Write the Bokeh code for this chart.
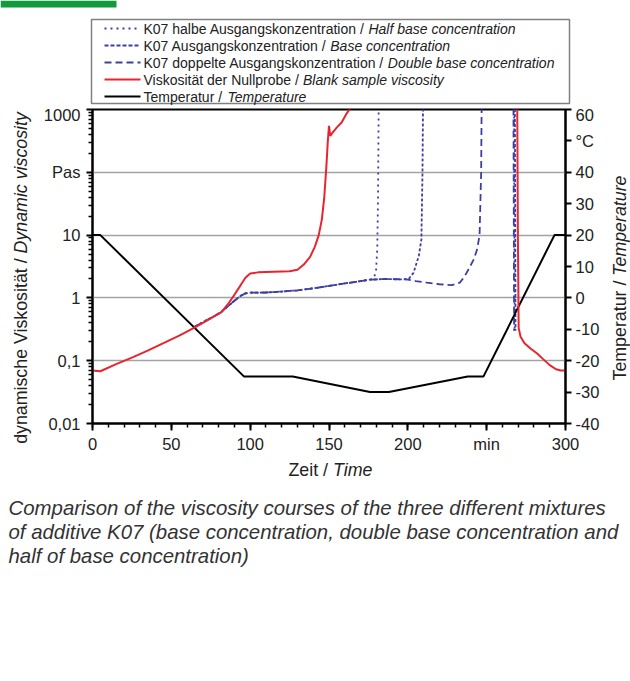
import math
from bokeh.plotting import figure
from bokeh.layouts import column, row
from bokeh.models import Range1d, LinearScale, LinearAxis, FixedTicker, Div
from bokeh.core.properties import value
from bokeh.embed import file_html
from bokeh.resources import INLINE

# ---------------- data ----------------
temp_time = [0, 5, 96, 127, 176, 188, 238, 248, 293, 300]
temp_c = [20, 20, -25, -25, -30, -30, -25, -25, 20, 20]

blank_time = [0, 5, 15, 25, 35, 45, 55, 65, 75, 82, 86, 90, 94, 97, 100, 105, 115, 125,
              130, 134, 138, 141, 143.5, 145.5, 147, 148.3, 149.2, 150, 150.8, 152, 155,
              158, 161, 163, 164, 269, 269.4, 269.8, 270.3, 271.5, 274, 278, 282, 286,
              290, 294, 297, 300]
blank_visc = [0.07, 0.068, 0.088, 0.112, 0.145, 0.19, 0.25, 0.34, 0.47, 0.6, 0.8, 1.12,
              1.6, 2.1, 2.45, 2.55, 2.6, 2.65, 2.8, 3.4, 4.5, 6.5, 10, 18, 40, 120, 300,
              550, 380, 420, 520, 620, 850, 1000, 3000, 3000, 1000, 10, 0.33, 0.24, 0.19,
              0.155, 0.13, 0.105, 0.085, 0.073, 0.07, 0.07]

half_time = [65, 73, 81, 86, 90, 94, 97, 100, 110, 120, 130, 140, 150, 160, 170, 176,
             178.5, 179.8, 180.6, 181.1, 181.5, 182, 267, 267.4, 267.8]
half_visc = [0.35, 0.45, 0.58, 0.74, 0.9, 1.08, 1.18, 1.21, 1.22, 1.26, 1.32, 1.42, 1.55,
             1.7, 1.85, 1.95, 2.1, 2.6, 6, 40, 1000, 5000, 5000, 1000, 0.3]

base_time = [65, 73, 81, 86, 90, 94, 97, 100, 110, 120, 130, 140, 150, 160, 170, 176,
             185, 195, 200.5, 203.6, 207, 208.6, 209.3, 209.6, 210, 267.5, 267.9, 268.3]
base_visc = [0.35, 0.45, 0.58, 0.74, 0.9, 1.08, 1.18, 1.21, 1.22, 1.26, 1.32, 1.42, 1.55,
             1.7, 1.85, 1.95, 2.0, 1.97, 2.0, 2.5, 4.7, 8.5, 100, 1000, 5000, 5000, 1000, 0.3]

double_time = [65, 73, 81, 86, 90, 94, 97, 100, 110, 120, 130, 140, 150, 160, 170, 176,
               185, 195, 200, 205, 212, 220, 228, 233, 236, 239, 242, 244, 245.5, 246.5,
               246.8, 247.2, 266.6, 267, 267.4]
double_visc = [0.35, 0.45, 0.58, 0.74, 0.9, 1.08, 1.18, 1.21, 1.22, 1.26, 1.32, 1.42, 1.55,
               1.7, 1.85, 1.95, 2.0, 1.98, 1.95, 1.85, 1.75, 1.65, 1.6, 1.75, 2.2, 3.0, 4.2,
               6, 10, 100, 1000, 5000, 5000, 1000, 0.3]

visc_ticks = [0.01, 0.1, 1, 10, 100, 1000]
visc_labels = ["0,01", "0,1", "1", "10", "Pas", "1000"]
temp_ticks = [-40, -30, -20, -10, 0, 10, 20, 30, 40, 50, 60]
temp_labels = ["-40", "-30", "-20", "-10", "0", "10", "20", "30", "40", "°C", "60"]
time_ticks = [0, 50, 100, 150, 200, 250, 300]
time_labels = ["0", "50", "100", "150", "200", "min", "300"]

legend_entries = [
    ("K07 halbe Ausgangskonzentration / ", "Half base concentration"),
    ("K07 Ausgangskonzentration / ", "Base concentration"),
    ("K07 doppelte Ausgangskonzentration / ", "Double base concentration"),
    ("Viskosität der Nullprobe / ", "Blank sample viscosity"),
    ("Temperatur / ", "Temperature"),
]
caption_lines = [
    "Comparison of the viscosity courses of the three different mixtures",
    "of additive K07 (base concentration, double base concentration and",
    "half of base concentration)",
]

# ---------------- styling ----------------
FONT = "Liberation Sans"
BLUE = "#3f3f9f"
RED = "#e8252e"
TXT = "#222222"

W = 630
TOP_H = 105          # legend strip
MID_H = 350          # main chart strip
BOT_H = 218          # axis title + caption strip
LEFT_W, RIGHT_W = 35, 20
MAIN_W = W - LEFT_W - RIGHT_W
TS = 17.8            # axis title size

AW = {' ': 278, '/': 278, ',': 278, '.': 278, '(': 333, ')': 333, 'ä': 556, '°': 400}
for ch in "0123456789":
    AW[ch] = 556
AW.update(dict(zip("abcdefghijklmnopqrstuvwxyz",
                   [556, 556, 500, 556, 556, 278, 556, 556, 222, 222, 500, 222, 833,
                    556, 556, 556, 556, 333, 500, 278, 556, 500, 722, 500, 500, 500])))
AW.update(dict(zip("ABCDEFGHIJKLMNOPQRSTUVWXYZ",
                   [667, 667, 722, 722, 667, 611, 778, 722, 278, 500, 667, 556, 833,
                    722, 778, 667, 778, 722, 667, 611, 722, 667, 944, 667, 667, 611])))


def tw(s, size):
    return sum(AW.get(c, 556) for c in s) / 1000.0 * size


def panel(w, h):
    f = figure(width=w, height=h, x_range=Range1d(0, w), y_range=Range1d(h, 0),
               output_backend="svg", toolbar_location=None,
               x_axis_location=None, y_axis_location=None,
               min_border=0, min_border_left=0, min_border_right=0,
               min_border_top=0, min_border_bottom=0)
    f.grid.visible = False
    f.outline_line_color = None
    f.background_fill_color = "white"
    f.border_fill_color = "white"
    return f


def txt(f, x, y, text, size, style="normal", color=TXT):
    f.text(x=[x], y=[y], text=[text], text_font=value(FONT),
           text_font_style=style, text_font_size=f"{size}px", text_color=color,
           text_align="left", text_baseline="middle")


def mixed(f, x, y, parts, size):
    for text, style in parts:
        txt(f, x, y, text, size, style)
        x += tw(text, size)


def vtitle(w, h, cx, cy, normal, italic):
    inner = (f'<div style="position:absolute;left:{cx}px;top:{cy}px;'
             f'transform:translate(-50%,-50%) rotate(-90deg);white-space:nowrap;'
             f"font-family:'{FONT}';font-size:{TS}px;line-height:1;color:{TXT};\">"
             f'{normal}<i>{italic}</i></div>')
    html = (f'<div style="position:relative;width:{w}px;height:{h}px;'
            f'overflow:visible;">{inner}</div>')
    return Div(text=html, width=w, height=h, margin=0)


# ---------------- main chart ----------------
p = figure(width=MAIN_W, height=MID_H, x_range=Range1d(0, 300),
           y_range=Range1d(0.01, 1000), y_axis_type="log",
           output_backend="svg", toolbar_location=None,
           min_border_left=92 - LEFT_W, min_border_right=(W - RIGHT_W) - 565,
           min_border_top=109 - TOP_H, min_border_bottom=(TOP_H + MID_H) - 423)
p.extra_y_ranges = {"temp": Range1d(-40, 60)}
p.extra_y_scales = {"temp": LinearScale()}
p.background_fill_color = "white"
p.border_fill_color = "white"
p.outline_line_color = "black"
p.outline_line_width = 2
p.xgrid.visible = False
p.ygrid.ticker = FixedTicker(ticks=visc_ticks[1:-1])
p.ygrid.grid_line_color = "#a3a3a3"
p.ygrid.grid_line_width = 1.3


def style_axis(ax, tick_out, minor_out, standoff):
    ax.axis_line_color = "black"
    ax.axis_line_width = 2
    ax.major_tick_line_color = "black"
    ax.major_tick_line_width = 2
    ax.minor_tick_line_color = "black"
    ax.minor_tick_line_width = 1.5
    ax.major_tick_in = 0
    ax.major_tick_out = tick_out
    ax.minor_tick_in = 0
    ax.minor_tick_out = minor_out
    ax.major_label_text_font = FONT
    ax.major_label_text_font_size = "16.5px"
    ax.major_label_text_color = TXT
    ax.major_label_standoff = standoff


xax = p.xaxis[0]
xax.ticker = FixedTicker(ticks=time_ticks, minor_ticks=list(range(0, 301, 10)))
xax.major_label_overrides = dict(zip(time_ticks, time_labels))
style_axis(xax, 7, 4, 4)

yax = p.yaxis[0]
minor_v = [m * 10.0 ** e for e in range(-2, 3) for m in range(2, 10)]
yax.ticker = FixedTicker(ticks=visc_ticks, minor_ticks=minor_v)
yax.major_label_overrides = dict(zip(visc_ticks, visc_labels))
style_axis(yax, 6, 4, 6)

rax = LinearAxis(y_range_name="temp",
                 ticker=FixedTicker(ticks=temp_ticks, minor_ticks=[]))
rax.major_label_overrides = dict(zip(temp_ticks, temp_labels))
style_axis(rax, 6, 0, 4)
p.add_layout(rax, "right")

p.line(half_time, half_visc, line_color=BLUE, line_width=1.8, line_dash="2 4")
p.line(base_time, base_visc, line_color=BLUE, line_width=1.8, line_dash="3 2")
p.line(double_time, double_visc, line_color=BLUE, line_width=1.8, line_dash="7 4")
p.line(temp_time, temp_c, y_range_name="temp", line_color="black", line_width=2)
p.line(blank_time, blank_visc, line_color=RED, line_width=2)

# ---------------- top strip: header tab + legend ----------------
top = panel(W, TOP_H)
top.quad(left=[0], right=[116], top=[0], bottom=[7], fill_color="#129a3d",
         line_color=None)
top.quad(left=[91], right=[569], top=[19], bottom=[103], fill_color="white",
         line_color="#808080", line_width=1.5)
sym = [(BLUE, "2 4", 1.8), (BLUE, "4 2", 1.8), (BLUE, "7 4", 1.8),
       (RED, "solid", 2), ("black", "solid", 2)]
for i, ((de, en), (col, dash, lw)) in enumerate(zip(legend_entries, sym)):
    yc = 28 + 17 * i
    top.line([104, 140], [yc, yc], line_color=col, line_dash=dash, line_width=lw)
    mixed(top, 143, yc, [(de, "normal"), (en, "italic")], 14)

# ---------------- side strips: vertical axis titles ----------------
left = vtitle(LEFT_W, MID_H, 22, 277.5 - TOP_H,
              "dynamische Viskosität / ", "Dynamic viscosity")
right = vtitle(RIGHT_W, MID_H, 621 - (W - RIGHT_W), 277.5 - TOP_H,
               "Temperatur / ", "Temperature")

# ---------------- bottom strip: x title + caption ----------------
bot = panel(W, BOT_H)
y0 = TOP_H + MID_H
mixed(bot, 330 - tw("Zeit / Time", TS) / 2, 469 - y0,
      [("Zeit / ", "normal"), ("Time", "italic")], TS)
CS = 20.4
for i, line in enumerate(caption_lines):
    txt(bot, 8, 507 + 24 * i - y0, line, CS, "italic", color="#333333")

layout = column(top, row(left, p, right), bot)
open("out.html", "w").write(file_html(layout, INLINE))
